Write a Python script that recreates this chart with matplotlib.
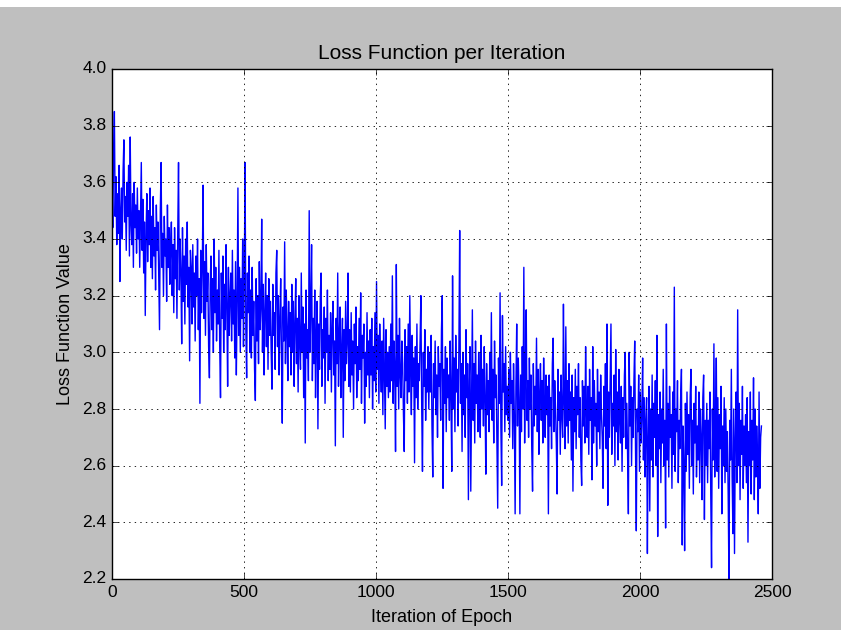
import matplotlib

matplotlib.use("Agg")

import matplotlib.pyplot as plt
import numpy as np
from matplotlib.patches import Rectangle

# loss value, one value every 3 iterations (25 per row)
loss = [
    3.60, 3.44, 3.70, 3.85, 3.48, 3.62, 3.38, 3.56, 3.42, 3.66, 3.25, 3.50, 3.58, 3.40, 3.64, 3.75, 3.46, 3.55, 3.36, 3.60, 3.48, 3.66, 3.34, 3.76, 3.45,
    3.38, 3.56, 3.30, 3.60, 3.44, 3.52, 3.35, 3.58, 3.40, 3.50, 3.30, 3.48, 3.67, 3.36, 3.54, 3.28, 3.46, 3.13, 3.42, 3.56, 3.32, 3.50, 3.38, 3.58, 3.30,
    3.48, 3.26, 3.55, 3.34, 3.44, 3.22, 3.52, 3.36, 3.46, 3.28, 3.08, 3.50, 3.67, 3.30, 3.42, 3.20, 3.48, 3.34, 3.40, 3.18, 3.52, 3.30, 3.44, 3.24, 3.38,
    3.46, 3.20, 3.38, 3.14, 3.44, 3.26, 3.36, 3.12, 3.42, 3.67, 3.22, 3.40, 3.28, 3.03, 3.44, 3.18, 3.34, 3.10, 3.40, 3.24, 3.46, 3.16, 3.30, 2.97, 3.36,
    3.30, 3.10, 3.38, 3.16, 3.28, 3.04, 3.34, 3.20, 3.40, 3.08, 3.26, 2.82, 3.36, 3.14, 3.30, 3.59, 3.12, 3.32, 3.06, 3.38, 3.18, 3.28, 3.02, 2.91, 3.24,
    3.34, 3.08, 3.26, 3.00, 3.40, 3.14, 3.30, 3.04, 3.22, 3.10, 3.36, 3.02, 2.84, 3.28, 3.12, 3.34, 3.00, 3.24, 3.08, 3.38, 3.16, 2.88, 3.30, 3.06, 3.20,
    3.28, 3.04, 3.36, 3.10, 3.22, 2.98, 3.32, 2.92, 3.18, 3.58, 3.06, 3.30, 3.00, 3.26, 3.12, 3.40, 3.02, 3.24, 3.67, 3.08, 2.91, 3.28, 3.14, 3.34, 3.00,
    3.22, 2.98, 3.30, 3.06, 3.18, 2.94, 2.83, 3.26, 3.04, 3.20, 2.96, 3.32, 3.08, 3.16, 3.47, 3.00, 3.24, 2.92, 3.14, 3.28, 3.02, 3.20, 2.94, 3.26, 3.06,
    3.18, 3.00, 2.87, 3.24, 3.06, 3.14, 2.94, 3.28, 3.36, 3.02, 3.20, 2.92, 3.12, 3.26, 2.98, 2.75, 3.16, 3.04, 3.39, 2.96, 3.22, 3.08, 2.90, 3.18, 3.02,
    3.14, 2.92, 3.24, 3.00, 3.18, 2.88, 3.10, 3.26, 2.96, 3.12, 2.86, 3.20, 3.04, 2.94, 3.28, 3.00, 3.16, 2.84, 3.10, 2.68, 3.22, 2.98, 3.08, 2.90, 3.50,
    3.00, 3.16, 3.38, 2.90, 3.12, 2.96, 3.22, 2.84, 3.06, 3.18, 2.73, 3.10, 2.94, 3.20, 3.28, 2.88, 3.08, 2.98, 3.16, 2.82, 3.12, 3.00, 3.22, 2.90, 3.06,
    2.94, 3.14, 2.86, 3.08, 3.18, 2.92, 3.04, 2.67, 3.12, 2.96, 3.28, 2.88, 3.06, 3.16, 2.84, 3.00, 3.12, 2.70, 3.08, 2.90, 3.18, 2.96, 3.04, 3.28, 2.88,
    3.08, 2.86, 3.14, 2.92, 3.04, 2.80, 3.10, 2.96, 3.16, 2.84, 3.02, 2.90, 3.12, 2.94, 3.21, 2.82, 3.06, 2.98, 3.10, 2.75, 3.00, 2.88, 3.14, 2.92, 3.04,
    2.84, 3.08, 2.92, 3.12, 2.80, 3.02, 2.90, 3.14, 2.86, 3.25, 2.94, 3.06, 2.82, 3.10, 2.96, 2.86, 3.04, 2.78, 3.12, 2.92, 2.73, 3.08, 2.88, 3.00, 2.84,
    3.02, 2.86, 3.10, 2.90, 3.27, 2.82, 3.04, 2.94, 2.65, 3.31, 2.88, 3.06, 2.80, 3.12, 2.92, 2.84, 3.04, 2.96, 2.78, 2.65, 3.08, 2.90, 3.02, 2.82, 3.10,
    2.86, 3.20, 2.94, 2.78, 3.06, 2.88, 2.98, 2.61, 3.02, 2.84, 3.10, 2.80, 2.96, 2.90, 3.04, 3.20, 2.82, 2.58, 3.00, 2.88, 3.08, 2.76, 2.94, 2.86, 3.02,
    2.80, 3.00, 2.86, 3.06, 2.74, 2.56, 2.96, 2.84, 3.04, 2.78, 2.92, 2.70, 3.02, 2.88, 2.96, 2.76, 3.08, 3.20, 2.52, 2.94, 2.82, 3.02, 2.72, 2.98, 2.84,
    2.92, 2.76, 3.04, 2.84, 2.58, 3.27, 2.80, 2.98, 2.72, 3.06, 2.86, 2.94, 2.74, 3.02, 3.43, 2.82, 2.96, 2.65, 3.00, 2.78, 2.92, 2.70, 3.08, 2.84, 2.96,
    2.48, 2.90, 3.02, 2.51, 2.84, 3.15, 2.76, 2.96, 2.68, 3.04, 2.82, 2.92, 2.72, 3.00, 2.86, 2.70, 3.06, 2.80, 2.94, 2.74, 3.02, 2.84, 2.57, 2.96, 2.78,
    2.90, 2.72, 3.00, 2.80, 3.14, 2.76, 2.94, 2.68, 3.04, 2.84, 2.92, 2.70, 2.45, 2.98, 2.82, 3.21, 2.74, 2.53, 3.13, 2.86, 2.96, 2.72, 3.02, 2.78, 2.88,
    2.76, 2.94, 2.70, 3.00, 2.82, 2.90, 2.66, 2.96, 2.78, 2.43, 2.88, 3.10, 2.74, 2.98, 2.84, 2.43, 2.92, 2.72, 3.02, 2.80, 3.30, 2.68, 2.94, 3.15, 2.76,
    2.90, 2.70, 2.98, 2.80, 2.92, 2.66, 2.51, 2.96, 2.74, 2.88, 2.78, 3.05, 2.72, 2.94, 2.64, 2.86, 2.96, 2.76, 2.90, 2.68, 2.98, 2.82, 2.70, 2.92, 2.78,
    2.88, 2.43, 2.92, 2.74, 2.84, 2.66, 2.96, 3.05, 2.72, 2.90, 2.80, 2.68, 2.50, 2.94, 2.76, 2.86, 2.64, 2.92, 2.78, 2.70, 3.17, 2.82, 2.66, 3.09, 2.74,
    2.90, 2.68, 2.96, 2.76, 2.86, 2.62, 2.92, 2.51, 2.84, 2.72, 2.94, 2.66, 2.88, 2.78, 2.96, 2.70, 2.84, 2.62, 2.53, 2.90, 2.74, 2.88, 2.68, 3.02, 2.80,
    2.70, 2.88, 2.64, 2.94, 2.76, 2.84, 2.55, 3.02, 2.68, 2.90, 2.74, 2.82, 2.60, 2.94, 2.72, 2.86, 2.66, 2.92, 2.78, 2.70, 2.52, 2.88, 2.74, 2.96, 2.66,
    3.10, 2.46, 2.86, 2.70, 2.90, 3.10, 2.64, 2.82, 2.74, 2.92, 2.60, 3.01, 2.72, 2.86, 2.62, 2.94, 2.76, 2.68, 2.88, 2.58, 2.84, 2.70, 2.92, 3.00, 2.66,
    2.82, 2.64, 2.43, 3.00, 2.74, 2.88, 2.60, 2.84, 2.70, 2.90, 3.04, 2.66, 2.37, 2.80, 2.72, 2.92, 2.58, 2.86, 2.68, 2.78, 2.98, 2.62, 2.84, 2.56, 2.76,
    2.84, 2.29, 2.70, 2.88, 2.44, 2.80, 2.62, 2.92, 2.56, 2.82, 2.70, 2.90, 2.60, 3.06, 2.35, 2.78, 2.66, 2.86, 2.54, 2.80, 2.68, 2.94, 2.60, 2.76, 2.38,
    3.10, 2.62, 2.82, 2.56, 2.88, 2.70, 2.78, 2.52, 2.86, 2.64, 3.23, 2.58, 2.80, 2.72, 2.90, 2.54, 2.76, 2.66, 2.84, 2.94, 2.32, 2.74, 2.60, 2.30, 2.82,
    2.58, 2.86, 2.64, 2.78, 2.52, 2.84, 2.94, 2.60, 2.76, 2.50, 2.82, 2.68, 2.88, 2.56, 2.74, 2.62, 2.86, 2.54, 2.80, 2.70, 2.48, 2.84, 2.92, 2.41, 2.76,
    2.60, 2.82, 2.54, 2.76, 2.66, 2.86, 2.50, 2.24, 2.80, 2.62, 3.03, 2.56, 2.74, 2.98, 2.58, 2.84, 2.52, 2.78, 2.66, 2.88, 2.43, 2.74, 2.60, 2.84, 2.54,
    2.80, 2.58, 2.72, 2.50, 2.19, 2.76, 2.62, 2.94, 2.56, 2.36, 2.80, 2.29, 2.70, 2.86, 2.54, 3.15, 2.60, 2.82, 2.48, 2.76, 2.64, 2.88, 2.52, 2.74, 2.60,
    2.78, 2.54, 2.84, 2.33, 2.72, 2.60, 2.86, 2.50, 2.76, 2.62, 2.91, 2.48, 2.80, 2.56, 2.74, 2.64, 2.43, 2.86, 2.52, 2.70, 2.74,
]
step = 3
iterations = np.arange(len(loss)) * step

x_ticks = [0, 500, 1000, 1500, 2000, 2500]
y_ticks = [2.2, 2.4, 2.6, 2.8, 3.0, 3.2, 3.4, 3.6, 3.8, 4.0]

plt.style.use("classic")
plt.rcParams["font.family"] = ["Liberation Sans", "DejaVu Sans"]

fig = plt.figure(figsize=(8.41, 6.34), dpi=100, facecolor="#bfbfbf")
# white strips left by the window screenshot
fig.patches.append(Rectangle((0, 1 - 7 / 634), 1, 7 / 634, transform=fig.transFigure,
                             facecolor="white", edgecolor="none", zorder=0))
fig.patches.append(Rectangle((0, 0), 1, 4 / 634, transform=fig.transFigure,
                             facecolor="white", edgecolor="none", zorder=0))

ax = fig.add_axes([112 / 841, 55 / 634, 660 / 841, 510 / 634])
ax.plot(iterations, loss, color="#0000ff", linewidth=1.0)
ax.set_xlim(0, 2500)
ax.set_ylim(2.2, 4.0)
ax.set_xticks(x_ticks)
ax.set_yticks(y_ticks)
ax.tick_params(labelsize=12.5, direction="in", top=True, right=True, pad=4)
ax.grid(True, color="k", linestyle=":", linewidth=0.6)
ax.set_title("Loss Function per Iteration", fontsize=15, pad=7)
ax.set_xlabel("Iteration of Epoch", fontsize=13, labelpad=7)
ax.set_ylabel("Loss Function Value", fontsize=13, labelpad=6)

fig.savefig("out.png", dpi=100, facecolor=fig.get_facecolor())
plt.close(fig)
